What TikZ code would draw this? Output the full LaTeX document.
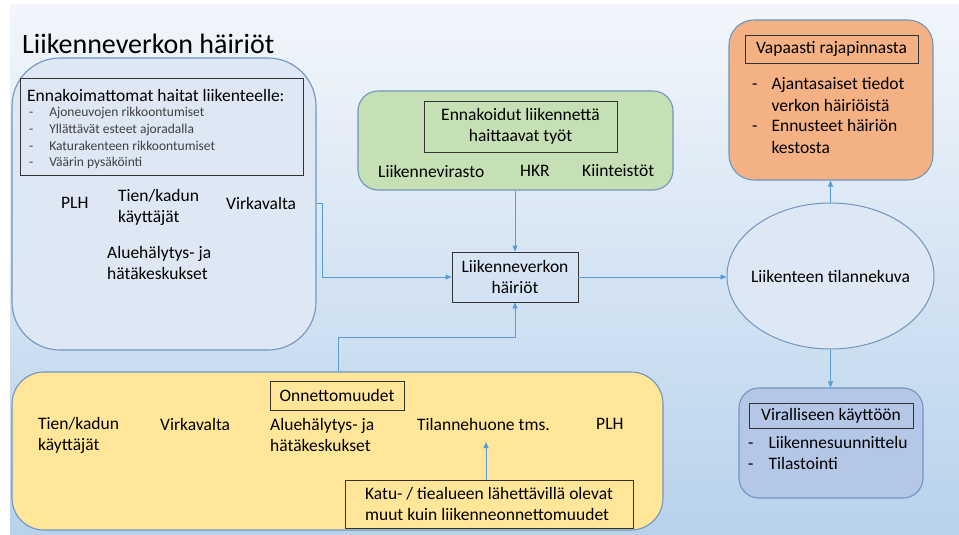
\documentclass[tikz,border=0pt]{standalone}
\usepackage{fontspec}
\setmainfont{Carlito}
\usetikzlibrary{arrows.meta,shapes.geometric}

\definecolor{bgtop}{HTML}{F2F6FB}
\definecolor{bgbot}{HTML}{B8D2EB}
\definecolor{rim}{HTML}{7095C0}
\definecolor{linkblue}{HTML}{5B9BD5}
\definecolor{paleblue}{HTML}{DDE8F4}
\definecolor{worksgreen}{HTML}{C5E0B4}
\definecolor{openorange}{HTML}{F4B183}
\definecolor{accyellow}{HTML}{FFE699}
\definecolor{officialblue}{HTML}{B4C7E7}
\definecolor{itemgray}{HTML}{404040}

\tikzset{
  group/.style={draw=rim, line width=1.1pt, inner sep=0pt},
  framebox/.style={draw=black!80, line width=0.9pt, inner sep=0pt},
  body/.style={font=\fontsize{17.5}{21}\selectfont, inner sep=0pt, text=black},
  small/.style={font=\fontsize{13.5}{16.8}\selectfont, inner sep=0pt, text=itemgray},
  title/.style={font=\fontsize{28}{32}\selectfont, inner sep=0pt, text=black},
  link/.style={draw=linkblue, line width=0.9pt, -{Triangle[length=6pt,width=5pt]}},
}

\begin{document}
\begin{tikzpicture}[x=1pt,y=-1pt]
  \useasboundingbox (0,0) rectangle (959,535);
  \fill[white] (0,0) rectangle (959,535);
  \shade[top color=bgtop, bottom color=bgbot] (10,5) rectangle (959,535);

  % heading
  \node[title, anchor=base west] (heading) at (22,54) {Liikenneverkon häiriöt};

  % unforeseen disturbances
  \node[group, rounded corners=48pt, fill=paleblue, minimum width=304pt, minimum height=292pt] (left) at (164,204) {};
  \node[framebox, minimum width=283pt, minimum height=97pt] (unforeseen) at (161.5,126.5) {};
  \node[body, anchor=west] (unforeseenhead) at (27,95) {Ennakoimattomat haitat liikenteelle:};
  \node[small, anchor=base west] (unforeseenlist) at (29,116.5) {%
    \begin{tabular}[t]{@{}l@{\hspace{16pt}}l@{}}
      - & Ajoneuvojen rikkoontumiset\\
      - & Yllättävät esteet ajoradalla\\
      - & Katurakenteen rikkoontumiset\\
      - & Väärin pysäköinti
    \end{tabular}};
  \node[body, anchor=west] (plhA) at (61,203) {PLH};
  \node[body, anchor=west, align=left] (usersA) at (118,207.5) {Tien/kadun\\käyttäjät};
  \node[body, anchor=west] (authA) at (226,203) {Virkavalta};
  \node[body, anchor=west, align=left] (centresA) at (107,263) {Aluehälytys- ja\\hätäkeskukset};

  % planned works
  \node[group, rounded corners=20pt, fill=worksgreen, minimum width=315pt, minimum height=99pt] (works) at (515.5,140.5) {};
  \node[framebox, minimum width=193pt, minimum height=51pt, body, align=center] (workshead) at (520.5,126.5) {Ennakoidut liikennettä\\haittaavat työt};
  \node[body, anchor=west] (agency) at (378,171) {Liikennevirasto};
  \node[body, anchor=west] (hkr) at (520,171) {HKR};
  \node[body, anchor=west] (estates) at (582,171) {Kiinteistöt};

  % collecting node
  \node[framebox, minimum width=126pt, minimum height=50pt, body, align=center] (net) at (515,277) {Liikenneverkon\\häiriöt};

  % situation picture
  \node[ellipse, draw=rim, line width=1pt, fill=paleblue, inner sep=0pt, minimum width=207pt, minimum height=146pt] (situation) at (830.5,276) {};
  \node[body] (situationlabel) at (situation.center) {Liikenteen tilannekuva};

  % open interface
  \node[group, rounded corners=25pt, fill=openorange, minimum width=204pt, minimum height=160pt] (open) at (831,100) {};
  \node[framebox, minimum width=173pt, minimum height=28pt, body] (openhead) at (831.5,49) {Vapaasti rajapinnasta};
  \node[body, anchor=base west] (openlist) at (752,90) {%
    \begin{tabular}[t]{@{}l@{\hspace{14pt}}l@{}}
      - & Ajantasaiset tiedot\\
        & verkon häiriöistä\\
      - & Ennusteet häiriön\\
        & kestosta
    \end{tabular}};

  % official use
  \node[group, rounded corners=20pt, fill=officialblue, minimum width=184pt, minimum height=110pt] (official) at (831,443) {};
  \node[framebox, minimum width=164pt, minimum height=25pt, body] (officialhead) at (831,415.5) {Viralliseen käyttöön};
  \node[body, anchor=base west] (officiallist) at (748,448) {%
    \begin{tabular}[t]{@{}l@{\hspace{15pt}}l@{}}
      - & Liikennesuunnittelu\\
      - & Tilastointi
    \end{tabular}};

  % accidents
  \node[group, rounded corners=32pt, fill=accyellow, minimum width=651pt, minimum height=158pt] (accidents) at (337.5,451) {};
  \node[framebox, minimum width=134pt, minimum height=29pt, body] (accidenthead) at (337,395.5) {Onnettomuudet};
  \node[body, anchor=west, align=left] (usersB) at (38,435) {Tien/kadun\\käyttäjät};
  \node[body, anchor=west] (authB) at (160,424) {Virkavalta};
  \node[body, anchor=west, align=left] (centresB) at (270,435) {Aluehälytys- ja\\hätäkeskukset};
  \node[body, anchor=west] (controlroom) at (417,424) {Tilannehuone tms.};
  \node[body, anchor=west] (plhB) at (596,424) {PLH};
  \node[framebox, minimum width=288pt, minimum height=48pt, body, align=left] (nearby) at (489,504) {Katu- / tiealueen lähettävillä olevat\\muut kuin liikenneonnettomuudet};

  % connectors
  \coordinate (bendA) at (322,203);
  \draw[link] (left.east |- bendA) -- (bendA) |- (net.west);
  \draw[link] (works.south -| net) -- (net.north);
  \coordinate (bendB) at (338,337);
  \draw[link] (accidents.north -| bendB) -- (bendB) -| (net.south);
  \draw[link] (net.east) -- (net.east -| situation.west);
  \draw[link] (situation.north) -- (open.south -| situation.north);
  \draw[link] (situation.south) -- (official.north -| situation.south);
  \draw[link] (nearby.north -| 486,0) -- (486,442);
\end{tikzpicture}
\end{document}
